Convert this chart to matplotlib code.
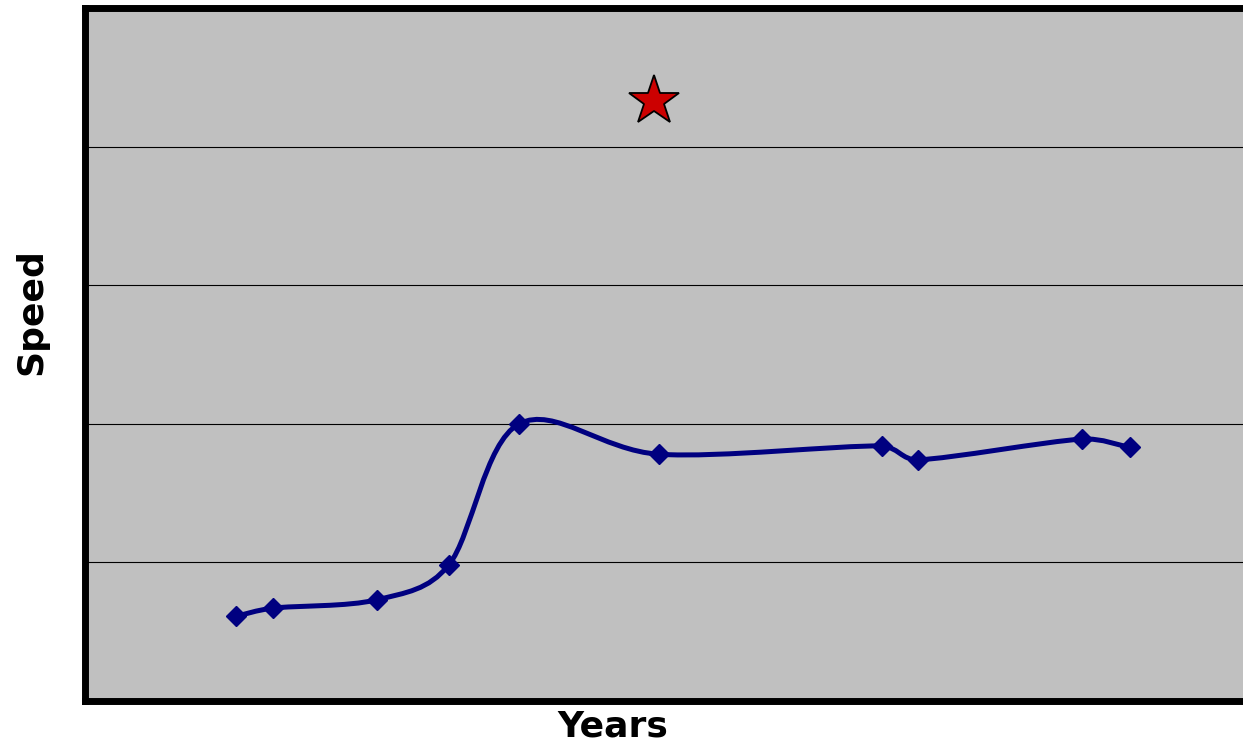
import numpy as np
import matplotlib
matplotlib.use("Agg")
import matplotlib.pyplot as plt
from matplotlib.path import Path
from matplotlib.patches import PathPatch
from matplotlib.transforms import IdentityTransform

# series values (x on a 0-100 scale along the Years axis)
years = [13.0, 16.2, 25.2, 31.4, 37.5, 49.6, 68.8, 71.9, 86.1, 90.2]
speed = [0.61, 0.67, 0.73, 0.98, 2.00, 1.78, 1.84, 1.74, 1.89, 1.83]

# highlighted point
star_year = [49.1]
star_speed = [4.33]

grid_levels = [0, 1, 2, 3, 4, 5]

NAVY = "#000080"


def smooth_path(pts, k=1.0 / 6.0, limit=0.4):
    # cubic bezier through every point (catmull-rom tangents),
    # handle length capped by the segment length to avoid loops
    n = len(pts)
    verts = [pts[0]]
    codes = [Path.MOVETO]
    for i in range(n - 1):
        p0 = pts[i - 1] if i > 0 else pts[i]
        p1 = pts[i]
        p2 = pts[i + 1]
        p3 = pts[i + 2] if i + 2 < n else pts[i + 1]
        seg = np.hypot(*(p2 - p1))
        h1 = (p2 - p0) * k
        h2 = (p3 - p1) * k
        for h in (h1, h2):
            ln = np.hypot(*h)
            if ln > seg * limit:
                h *= seg * limit / ln
        verts += [p1 + h1, p2 - h2, p2]
        codes += [Path.CURVE4] * 3
    return Path(verts, codes)


fig = plt.figure(figsize=(12.43, 7.49), dpi=100)
ax = fig.add_axes([85 / 1243, 48 / 749, 1 - 85 / 1243, 693 / 749])
ax.set_facecolor("#C0C0C0")

ax.set_xlim(0, 100)
ax.set_ylim(0, 5)
ax.set_yticks(grid_levels)
ax.set_xticks([])
ax.tick_params(axis="y", length=0, labelleft=False)
ax.yaxis.grid(True, color="black", linewidth=0.8)
ax.set_axisbelow(True)

for side in ["left", "top", "bottom"]:
    ax.spines[side].set_linewidth(5)
    ax.spines[side].set_capstyle("projecting")
ax.spines["right"].set_visible(False)

# smoothed line, built in screen space so the curve shape follows the axes scale
screen_pts = ax.transData.transform(np.column_stack([years, speed]))
curve = PathPatch(smooth_path(screen_pts), transform=IdentityTransform(),
                  facecolor="none", edgecolor=NAVY, linewidth=3.6,
                  capstyle="round", joinstyle="round", zorder=3)
ax.add_patch(curve)
ax.plot(years, speed, linestyle="none", marker="D", markersize=10,
        color=NAVY, markeredgecolor=NAVY, markeredgewidth=1, zorder=4)

ax.plot(star_year, star_speed, linestyle="none", marker="*", markersize=38,
        color="#CC0000", markeredgecolor="black", markeredgewidth=1.3,
        zorder=5, clip_on=False)

fig.text(612.5 / 1243, 12.3 / 749, "Years", ha="center", va="baseline",
         fontsize=26, fontweight="bold", family="DejaVu Sans")
fig.text(31 / 1243, 1 - 311.7 / 749, "Speed", ha="center", va="center",
         rotation=90, fontsize=26, fontweight="bold", family="DejaVu Sans")

fig.savefig("out.png", dpi=100, facecolor="white")
